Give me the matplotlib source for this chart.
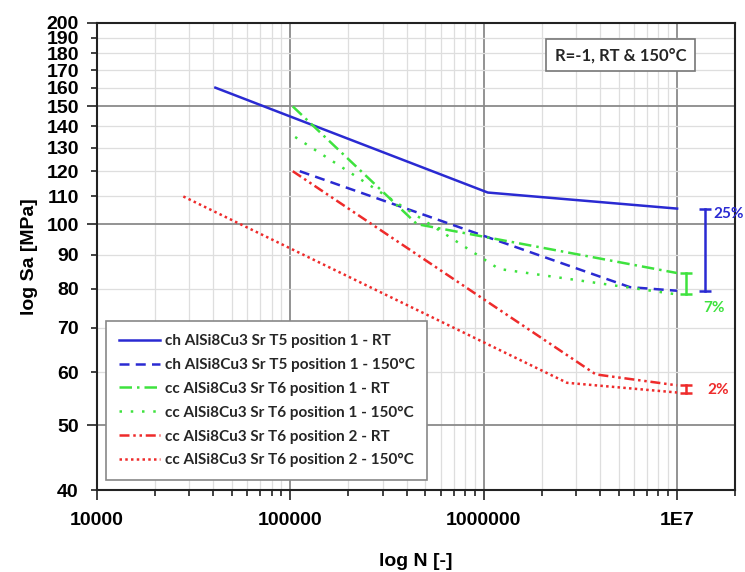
import matplotlib

matplotlib.use("Agg")
import matplotlib.pyplot as plt
from matplotlib.ticker import FixedLocator, FuncFormatter, NullFormatter

# S-N curves (cycles, stress amplitude in MPa)
ch_t5_p1_rt_n = [41000, 1.05e6, 1e7]
ch_t5_p1_rt_s = [160, 111.5, 105.5]
ch_t5_p1_150_n = [112000, 5.7e6, 1e7]
ch_t5_p1_150_s = [120, 80.5, 79.5]
cc_t6_p1_rt_n = [103000, 452000, 1e7]
cc_t6_p1_rt_s = [150, 100, 84.5]
cc_t6_p1_150_n = [106000, 1.2e6, 1e7]
cc_t6_p1_150_s = [135, 85.7, 78.5]
cc_t6_p2_rt_n = [103000, 3.8e6, 1e7]
cc_t6_p2_rt_s = [120, 59.6, 57.4]
cc_t6_p2_150_n = [28000, 2.7e6, 1e7]
cc_t6_p2_150_s = [110, 57.9, 56.0]

labels = [
    "ch AlSi8Cu3 Sr T5 position 1 - RT",
    "ch AlSi8Cu3 Sr T5 position 1 - 150°C",
    "cc AlSi8Cu3 Sr T6 position 1 - RT",
    "cc AlSi8Cu3 Sr T6 position 1 - 150°C",
    "cc AlSi8Cu3 Sr T6 position 2 - RT",
    "cc AlSi8Cu3 Sr T6 position 2 - 150°C",
]

# spread between RT and 150°C at 1E7
spread_n = [1.4e7, 1.11e7, 1.11e7]
spread_lo = [79.5, 78.7, 56.0]
spread_hi = [105.5, 84.5, 57.4]
spread_txt = ["25%", "7%", "2%"]
spread_txt_n = [1.54e7, 1.36e7, 1.43e7]
spread_txt_s = [103.5, 75.0, 56.4]

x_major = [1e4, 1e5, 1e6, 1e7]
x_major_lbl = ["10000", "100000", "1000000", "1E7"]
y_major = [50, 100, 150, 200]
y_minor = [40, 60, 70, 80, 90, 110, 120, 130, 140, 160, 170, 180, 190]

BLUE = "#2a2ad2"
GREEN = "#3ee23e"
RED = "#ee2b2b"

fig = plt.figure(figsize=(7.45, 5.72), dpi=100)
ax = fig.add_axes([0.130, 0.143, 0.857, 0.817])
ax.set_xscale("log")
ax.set_yscale("log")
ax.set_xlim(1e4, 2e7)
ax.set_ylim(40, 200)

ax.plot(ch_t5_p1_rt_n, ch_t5_p1_rt_s, color=BLUE, lw=1.8, label=labels[0])
ax.plot(ch_t5_p1_150_n, ch_t5_p1_150_s, color=BLUE, lw=1.8,
        linestyle=(0, (4, 2.5)), label=labels[1])
ax.plot(cc_t6_p1_rt_n, cc_t6_p1_rt_s, color=GREEN, lw=1.8,
        linestyle=(0, (5, 2, 1, 2)), label=labels[2])
ax.plot(cc_t6_p1_150_n, cc_t6_p1_150_s, color=GREEN, lw=1.8,
        linestyle=(0, (1, 3.5)), label=labels[3])
ax.plot(cc_t6_p2_rt_n, cc_t6_p2_rt_s, color=RED, lw=1.8,
        linestyle=(0, (4, 1.5, 1, 1.5, 1, 1.5)), label=labels[4])
ax.plot(cc_t6_p2_150_n, cc_t6_p2_150_s, color=RED, lw=1.8,
        linestyle=(0, (1, 1.3)), label=labels[5])

for n, lo, hi, c in zip(spread_n, spread_lo, spread_hi, [BLUE, GREEN, RED]):
    ax.plot([n, n], [lo, hi], color=c, lw=1.8, marker="_", ms=8, mew=1.8,
            clip_on=False)
for t, n, s, c in zip(spread_txt, spread_txt_n, spread_txt_s, [BLUE, GREEN, RED]):
    ax.text(n, s, t, color=c, fontsize=11, fontweight="bold", family="Lato",
            ha="left", va="center")

# axes, ticks, grid
ax.xaxis.set_major_locator(FixedLocator(x_major))
ax.set_xticklabels(x_major_lbl)
ax.xaxis.set_minor_locator(FixedLocator(
    [m * 10 ** e for e in range(4, 8) for m in range(2, 10) if m * 10 ** e <= 2e7]))
ax.xaxis.set_minor_formatter(NullFormatter())

ax.yaxis.set_major_locator(FixedLocator(y_major))
ax.yaxis.set_minor_locator(FixedLocator(y_minor))
ax.yaxis.set_major_formatter(FuncFormatter(lambda v, p: f"{v:.0f}"))
ax.yaxis.set_minor_formatter(FuncFormatter(lambda v, p: f"{v:.0f}"))

ax.grid(which="major", color="#8a8a8a", lw=1.3)
ax.grid(which="minor", color="#dedede", lw=0.9)
ax.set_axisbelow(True)

tick_font = dict(family="Liberation Sans", weight="bold", size=14)
ax.tick_params(axis="both", which="both", direction="out", color="#333333",
               width=1.3)
ax.tick_params(axis="y", which="major", length=7, pad=6)
ax.tick_params(axis="y", which="minor", length=4.5, pad=8.5)
ax.tick_params(axis="x", which="major", length=7, pad=9)
ax.tick_params(axis="x", which="minor", length=4.5)
for lbl in ax.get_xticklabels() + ax.get_yticklabels() + ax.get_yticklabels(minor=True):
    lbl.set_fontproperties(tick_font)
for sp in ax.spines.values():
    sp.set_linewidth(1.5)
    sp.set_color("#222222")

ax.set_xlabel("log N [-]", fontdict=tick_font, labelpad=17)
ax.set_ylabel("log Sa [MPa]", fontdict=tick_font, labelpad=6)

leg = ax.legend(loc="lower left", bbox_to_anchor=(0.014, 0.021),
                borderaxespad=0, fancybox=False, edgecolor="#888888",
                framealpha=1, handlelength=2.7, labelspacing=0.64,
                borderpad=0.85, handletextpad=0.3,
                prop=dict(family="Lato", weight="bold", size=11))
leg.get_frame().set_linewidth(1.2)
for t in leg.get_texts():
    t.set_color("#262626")

ax.text(0.820, 0.931, "R=-1, RT & 150°C", transform=ax.transAxes,
        ha="center", va="center", fontsize=12, fontweight="bold",
        family="Lato", color="#262626",
        bbox=dict(boxstyle="square,pad=0.5", fc="white", ec="#777777", lw=1.2))

fig.savefig("out.png", dpi=100)
